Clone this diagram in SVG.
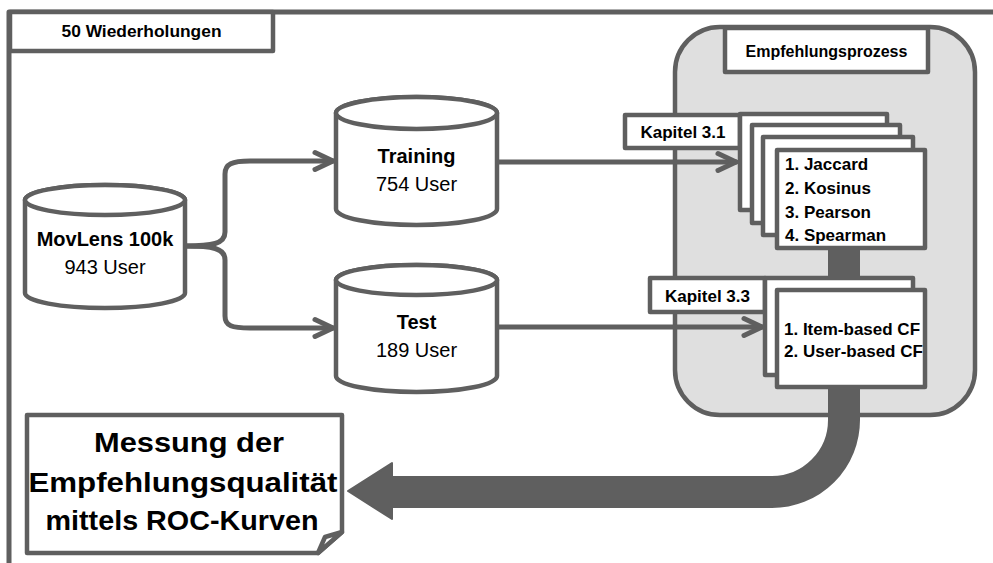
<svg xmlns="http://www.w3.org/2000/svg" width="993" height="563" viewBox="0 0 993 563">
<style>
.ln{fill:none;stroke:#5f5f5f;stroke-width:5;stroke-linecap:round;stroke-linejoin:round}
.bx{fill:#fff;stroke:#5f5f5f;stroke-width:4.5;stroke-linejoin:round}
.t{font-family:"Liberation Sans",Arial,sans-serif;fill:#000;text-anchor:middle}
.b{font-weight:bold}
.l{font-family:"Liberation Sans",Arial,sans-serif;fill:#000;font-weight:bold;font-size:17px}
</style>
<defs>
<marker id="ah" markerUnits="userSpaceOnUse" markerWidth="26" markerHeight="24" viewBox="-22 -12 26 24" refX="0" refY="0" orient="auto">
<path d="M-18,-8.5 L0,0 L-18,8.5" fill="none" stroke="#5f5f5f" stroke-width="5" stroke-linecap="round" stroke-linejoin="round"/>
</marker>
</defs>

<g id="frame">
<path class="ln" d="M9,563 L9,12 L993,12" stroke-linecap="butt"/>
<rect class="bx" x="10" y="12" width="263" height="39"/>
<text class="t b" x="141.5" y="37" font-size="16" textLength="160" lengthAdjust="spacingAndGlyphs">50 Wiederholungen</text>
</g>

<g id="process">
<rect x="675" y="27" width="300" height="388" rx="45" ry="45" fill="#dfdfdf" stroke="#5f5f5f" stroke-width="4.5"/>
<rect class="bx" x="725" y="28" width="203" height="44"/>
<text class="t b" x="826.5" y="57" font-size="16">Empfehlungsprozess</text>
</g>

<g id="connectors">
<path class="ln" d="M185,246 C212,246 225,244 225,232 L225,174 C225,164 232,161 250,161 L333,161" marker-end="url(#ah)"/>
<path class="ln" d="M185,246 C212,246 225,248 225,260 L225,316 C225,326 232,328 250,328 L333,328" marker-end="url(#ah)"/>
<path class="ln" d="M497,162 L736,162" marker-end="url(#ah)"/>
<path class="ln" d="M497,327 L762,327" marker-end="url(#ah)"/>
<path d="M829,248 L859,248 L859,420 A87,87 0 0 1 772,507 L392,507 L392,519 L348,491 L392,463 L392,477 L772,477 A57,57 0 0 0 829,420 Z" fill="#5f5f5f" stroke="#5f5f5f" stroke-width="2" stroke-linejoin="round"/>
</g>

<g id="movlens">
<path class="bx" d="M25,200 L25,293 A80,15 0 0 0 185,293 L185,200 A80,15 0 0 0 25,200 Z"/>
<ellipse class="bx" cx="105" cy="200" rx="80" ry="15"/>
<text class="t b" x="105" y="246" font-size="20">MovLens 100k</text>
<text class="t" x="105" y="274" font-size="20">943 User</text>
</g>

<g id="training">
<path class="bx" d="M336,113 L336,209 A80.5,16 0 0 0 497,209 L497,113 A80.5,16 0 0 0 336,113 Z"/>
<ellipse class="bx" cx="416.5" cy="113" rx="80.5" ry="16"/>
<text class="t b" x="416.5" y="163" font-size="20">Training</text>
<text class="t" x="416.5" y="191" font-size="20">754 User</text>
</g>

<g id="test">
<path class="bx" d="M336,280 L336,376 A80.5,16 0 0 0 497,376 L497,280 A80.5,15 0 0 0 336,280 Z"/>
<ellipse class="bx" cx="416.5" cy="280" rx="80.5" ry="15"/>
<text class="t b" x="416.5" y="329" font-size="20">Test</text>
<text class="t" x="416.5" y="357" font-size="20">189 User</text>
</g>

<g id="similarity">
<rect class="bx" x="625" y="115" width="115" height="33"/>
<text class="t b" x="683" y="138" font-size="17">Kapitel 3.1</text>
<rect class="bx" x="740" y="114" width="147" height="96"/>
<rect class="bx" x="752" y="125" width="148" height="98"/>
<rect class="bx" x="763" y="137" width="150" height="98"/>
<rect class="bx" x="777" y="150" width="148" height="98"/>
<text class="l" x="785" y="170">1. Jaccard</text>
<text class="l" x="785" y="194">2. Kosinus</text>
<text class="l" x="785" y="218">3. Pearson</text>
<text class="l" x="785" y="241">4. Spearman</text>
</g>

<g id="cf">
<rect class="bx" x="650" y="278" width="115" height="34"/>
<text class="t b" x="707.5" y="302" font-size="17">Kapitel 3.3</text>
<rect class="bx" x="765" y="278" width="148" height="97"/>
<rect class="bx" x="777" y="290" width="148" height="97"/>
<text class="l" x="784" y="335">1. Item-based CF</text>
<text class="l" x="784" y="357">2. User-based CF</text>
</g>

<g id="measurement">
<path class="bx" d="M27,415 L342,415 L342,532 L318,553 L27,553 Z"/>
<path class="bx" d="M342,532 L325,537 L318,553 Z"/>
<text class="t b" x="189" y="452" font-size="28" textLength="190" lengthAdjust="spacingAndGlyphs">Messung der</text>
<text class="t b" x="183" y="492" font-size="28" textLength="309" lengthAdjust="spacingAndGlyphs">Empfehlungsqualität</text>
<text class="t b" x="182" y="530" font-size="28" textLength="273" lengthAdjust="spacingAndGlyphs">mittels ROC-Kurven</text>
</g>
</svg>
